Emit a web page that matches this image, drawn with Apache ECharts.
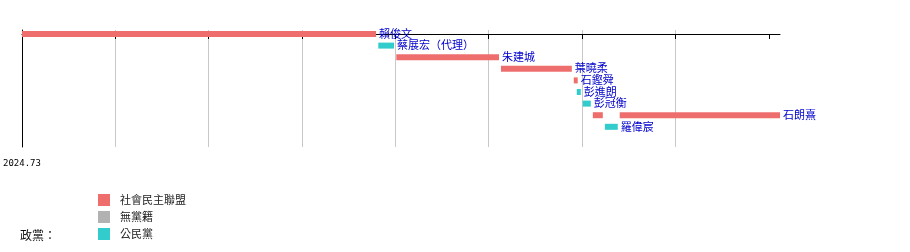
<!DOCTYPE html>
<html>
<head>
<meta charset="utf-8">
<script src="https://cdn.jsdelivr.net/npm/echarts@6/dist/echarts.min.js"></script>
<style>
  html, body { margin: 0; padding: 0; background: #fff; }
  #chart { width: 910px; height: 252px; }
</style>
</head>
<body>
<div id="chart"></div>
<script>
// Office holders, one row each, top to bottom
const names = ['賴俊文', '蔡展宏（代理）', '朱建城', '葉曉柔', '石鏗舜', '彭進朗', '彭冠衡', '石朗熹', '羅偉宸'];

// Terms: row index, start, end (in scale units, one unit per grid step), party, whether the name is written after it
const segRow   = [0, 1, 2, 3, 4, 5, 6, 7, 7, 8];
const segStart = [0.000, 3.817, 4.010, 5.131, 5.911, 5.943, 6.007, 6.115, 6.403, 6.244];
const segEnd   = [3.793, 3.985, 5.110, 5.890, 5.953, 5.986, 6.093, 6.222, 8.120, 6.382];
const segParty = ['社會民主聯盟', '公民黨', '社會民主聯盟', '社會民主聯盟', '社會民主聯盟',
                  '公民黨', '公民黨', '社會民主聯盟', '社會民主聯盟', '公民黨'];
const segNamed = [true, true, true, true, true, true, true, false, true, true];

// Parties and colours
const parties = ['社會民主聯盟', '無黨籍', '公民黨'];
const partyColors = ['#EE6E6E', '#B2B2B2', '#33CCCC'];

// Scale
const scaleMax = 8.12;
const tickValues = [0, 1, 2, 3, 4, 5, 6, 7, 8];
const tickLabels = ['2024.73'];

const CJK = '"Noto Sans CJK TC", "Noto Sans CJK SC", sans-serif';

function renderTerm(params, api) {
  const s = api.coord([api.value(1), api.value(0)]);
  const e = api.coord([api.value(2), api.value(0)]);
  const h = 6;
  const children = [{
    type: 'rect',
    shape: { x: s[0], y: s[1] - h / 2, width: Math.max(e[0] - s[0], 1), height: h },
    style: { fill: api.visual('color') }
  }];
  if (api.value(3)) {
    children.push({
      type: 'text',
      x: e[0] + 3,
      y: s[1] - 0.5,
      style: {
        text: names[api.value(0)],
        fill: '#0000CC',
        font: '11px ' + CJK,
        verticalAlign: 'middle',
        align: 'left'
      }
    });
  }
  return { type: 'group', children: children };
}

const series = parties.map(function (p, pi) {
  const data = [];
  for (let i = 0; i < segRow.length; i++) {
    if (segParty[i] === p) {
      data.push([segRow[i], segStart[i], segEnd[i], segNamed[i] ? 1 : 0]);
    }
  }
  return {
    name: p,
    type: 'custom',
    renderItem: renderTerm,
    encode: { x: [1, 2], y: 0 },
    itemStyle: { color: partyColors[pi] },
    clip: false,
    silent: true,
    data: data
  };
});

const chart = echarts.init(document.getElementById('chart'), null, { renderer: 'canvas' });
chart.setOption({
  animation: false,
  backgroundColor: '#fff',
  grid: { left: 19, right: 130, top: 30, bottom: 105, containLabel: false },
  xAxis: {
    type: 'value',
    min: 0,
    max: scaleMax,
    interval: 1,
    axisLine: { show: true, lineStyle: { color: '#000', width: 1 } },
    axisTick: { show: true, length: 5, lineStyle: { color: '#000' }, customValues: tickValues },
    axisLabel: {
      show: true,
      customValues: [0],
      formatter: function (v) { return v === 0 ? tickLabels[0] : ''; },
      fontFamily: '"DejaVu Sans Mono", monospace',
      fontSize: 9,
      color: '#000',
      margin: 12
    },
    splitLine: { show: true, showMinLine: false, showMaxLine: false, lineStyle: { color: '#C8C8C8', width: 1 } }
  },
  yAxis: {
    type: 'value',
    inverse: true,
    min: -0.345,
    max: 9.74,
    axisLine: { show: true, lineStyle: { color: '#000', width: 1 } },
    axisTick: { show: false },
    axisLabel: { show: false },
    splitLine: { show: false }
  },
  legend: {
    orient: 'vertical',
    left: 98,
    top: 194,
    padding: 0,
    itemWidth: 12,
    itemHeight: 12,
    itemGap: 5,
    icon: 'rect',
    selectedMode: false,
    data: parties,
    textStyle: { fontFamily: CJK, fontSize: 11, color: '#222', padding: [0, 0, 0, 5], lineHeight: 12 }
  },
  graphic: [{
    type: 'text',
    left: 20,
    top: 229,
    style: { text: '政黨：', font: '12px ' + CJK, fill: '#111' }
  }],
  series: series
});
</script>
</body>
</html>
